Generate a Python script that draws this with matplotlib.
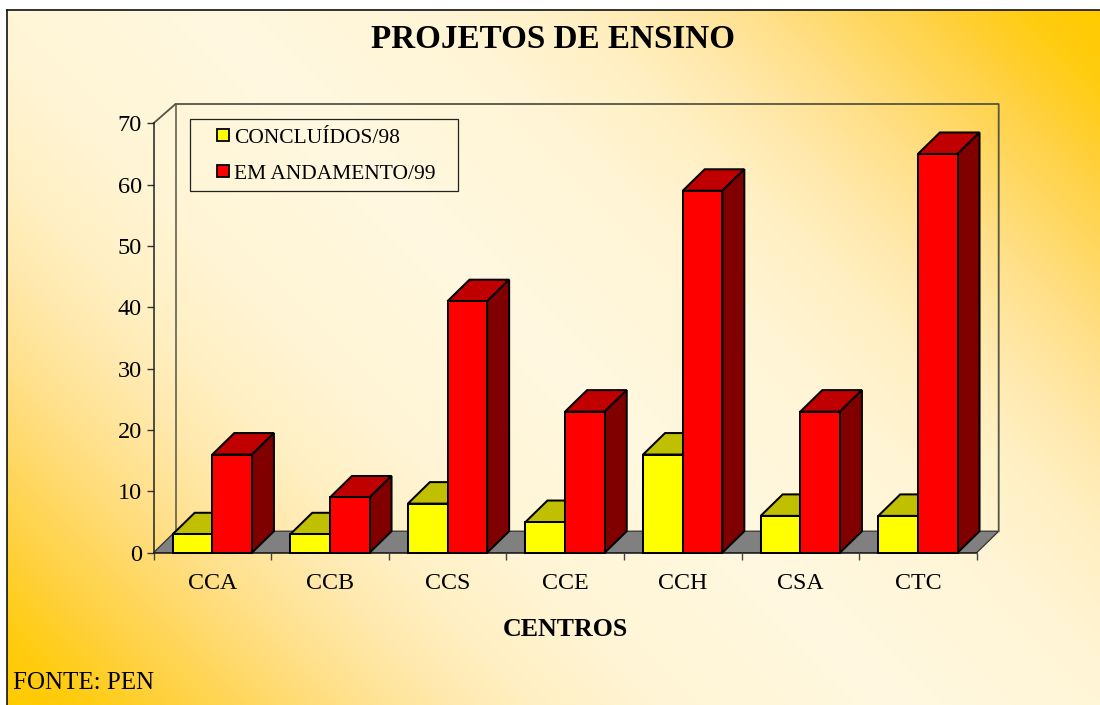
import numpy as np
import matplotlib
matplotlib.use("Agg")
import matplotlib.pyplot as plt
from matplotlib.colors import LinearSegmentedColormap
from matplotlib.patches import Patch, Polygon, Rectangle

categories = ["CCA", "CCB", "CCS", "CCE", "CCH", "CSA", "CTC"]
concluidos = [3, 3, 8, 5, 16, 6, 6]
andamento = [16, 9, 41, 23, 59, 23, 65]
series_names = ["CONCLUÍDOS/98", "EM ANDAMENTO/99"]
y_ticks = [0, 10, 20, 30, 40, 50, 60, 70]

W, H = 1100, 705
plt.rcParams["font.family"] = ["Liberation Serif", "DejaVu Serif"]
fig = plt.figure(figsize=(W / 100, H / 100), dpi=100, facecolor="white")


def rect(x0, ytop, x1, ybot):
    return [x0 / W, 1 - ybot / H, (x1 - x0) / W, (ybot - ytop) / H]


# gradient background
bg = fig.add_axes(rect(7, 10, W, H), zorder=0)
xx, yy = np.meshgrid(np.linspace(7, W, 550), np.linspace(10, H, 350))
d = np.abs((xx - 553) + (357 - yy))
d = d / d.max()
cmap = LinearSegmentedColormap.from_list(
    "bg", [(0, "#FFF8E0"), (0.25, "#FFF5D6"), (0.4, "#FFF0C4"), (0.5, "#FFE9AE"), (0.62, "#FFE08A"),
           (0.8, "#FFD245"), (0.92, "#FFCC10"), (1, "#FFCB00")]
)
bg.imshow(d, cmap=cmap, vmin=0, vmax=1, aspect="auto", extent=(7, W, H, 10))
bg.set_xticks([])
bg.set_yticks([])
for s in ("right", "bottom"):
    bg.spines[s].set_visible(False)
for s in ("left", "top"):
    bg.spines[s].set_linewidth(1.2)
    bg.spines[s].set_color("#111111")

# main axes
X0, X1, Y70, Y0 = 153.5, 976.7, 123.3, 552.7
ax = fig.add_axes(rect(X0, Y70, X1, Y0), zorder=1)
ax.patch.set_visible(False)
n = len(categories)
ax.set_xlim(0, n)
ax.set_ylim(0, 70)
dx = 22.0 * n / (X1 - X0)
dy = 21.5 * 70 / (Y0 - Y70)
top_back = 70 + 19.3 * 70 / (Y0 - Y70)

wall = "#555544"
# floor
ax.add_patch(Polygon([(0, 0), (n, 0), (n + dx, dy), (dx, dy)], closed=True,
                     facecolor="#808080", edgecolor="#333333", lw=0.9, clip_on=False, zorder=1))
# walls
ax.plot([0, dx, n + dx, n + dx], [70, top_back, top_back, dy], color=wall, lw=1.3,
        clip_on=False, zorder=1)
ax.plot([dx, dx], [dy, top_back], color=wall, lw=1.1, clip_on=False, zorder=1)

w = 0.337
pos = np.arange(n) + 0.5
lw = 1.45


def bars(xs, vals, face, top, side, z):
    ax.bar(xs, vals, width=w, align="edge", color=face, edgecolor="black", linewidth=lw,
           clip_on=False, zorder=z + 1)
    for x, v in zip(xs, vals):
        ax.add_patch(Polygon([(x, v), (x + w, v), (x + w + dx, v + dy), (x + dx, v + dy)],
                             closed=True, facecolor=top, edgecolor="black", lw=lw,
                             clip_on=False, zorder=z))
        ax.add_patch(Polygon([(x + w, 0), (x + w + dx, dy), (x + w + dx, v + dy), (x + w, v)],
                             closed=True, facecolor=side, edgecolor="black", lw=lw,
                             clip_on=False, zorder=z))


bars(pos - w, concluidos, "#FFFF00", "#C0C000", "#808000", 2)
bars(pos, andamento, "#FF0000", "#C00000", "#800000", 4)

# axes furniture
for s in ("top", "right"):
    ax.spines[s].set_visible(False)
ax.spines["left"].set_color("#222222")
ax.spines["left"].set_linewidth(1.1)
ax.spines["bottom"].set_color("#222222")
ax.spines["bottom"].set_linewidth(1.1)
ax.spines["bottom"].set_zorder(1.5)
ax.set_yticks(y_ticks)
ax.set_xticks(np.arange(n + 1))
ax.set_xticklabels([])
ax.set_xticks(pos, minor=True)
ax.set_xticklabels(categories, minor=True, fontsize=17.3)
ax.tick_params(axis="x", which="major", length=5, width=1, color="#444444")
ax.tick_params(axis="x", which="minor", length=0, pad=14.7)
ax.tick_params(axis="y", length=5, width=1, color="#333333", labelsize=17.5, pad=3.2)

# legend
fig.add_artist(Rectangle((190 / W, 1 - 191 / H), 268 / W, 72 / H, transform=fig.transFigure,
                         facecolor="none", edgecolor="#222222", lw=0.9, zorder=6))
handles = [Patch(facecolor="#FFFF00", edgecolor="black", lw=1.3),
           Patch(facecolor="#FF0000", edgecolor="black", lw=1.3)]
leg = ax.legend(handles, series_names, loc="upper left",
                bbox_to_anchor=(209.5 / W, 1 - 121 / H), bbox_transform=fig.transFigure,
                frameon=False, fontsize=15.5, borderpad=0.35, borderaxespad=0,
                handlelength=0.56, handleheight=0.53, handletextpad=0.24, labelspacing=0.79)
leg.set_zorder(7)

fig.suptitle("PROJETOS DE ENSINO", x=553 / W, y=1 - 40 / H, va="center", ha="center",
             fontsize=23.9, fontweight="bold", color="black")
ax.set_xlabel("CENTROS", fontsize=18.6, fontweight="bold")
ax.xaxis.set_label_coords((565 - X0) / (X1 - X0), -(629 - Y0) / (Y0 - Y70))
ax.xaxis.label.set_va("center")
fig.text(13 / W, 1 - 683 / H, "FONTE: PEN", fontsize=18, va="center", ha="left")

fig.savefig("out.png", dpi=100, facecolor="white")
